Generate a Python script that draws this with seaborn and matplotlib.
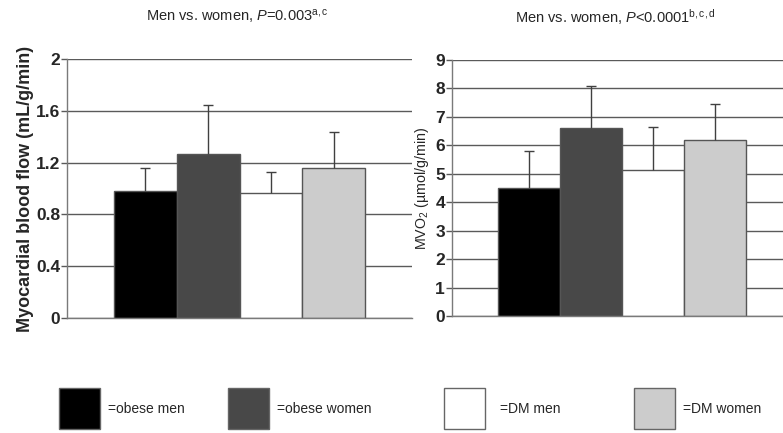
import matplotlib
matplotlib.use("Agg")
import matplotlib.pyplot as plt
from matplotlib.patches import Rectangle
import numpy as np
import pandas as pd
import seaborn as sns

# Groups and measurements (mean and upper SD)
groups = ["obese men", "obese women", "DM men", "DM women"]
mbf_mean = [0.98, 1.27, 0.965, 1.155]
mbf_sd = [0.18, 0.375, 0.16, 0.28]
mvo2_mean = [4.5, 6.6, 5.15, 6.2]
mvo2_sd = [1.3, 1.5, 1.5, 1.27]

mbf_ticks = [0, 0.4, 0.8, 1.2, 1.6, 2]
mbf_ticklabels = ["0", "0.4", "0.8", "1.2", "1.6", "2"]
mvo2_ticks = list(range(0, 10))

colors = ["#000000", "#484848", "#ffffff", "#cccccc"]

sns.set_style("white")
plt.rcParams["font.family"] = ["Liberation Sans", "DejaVu Sans"]
plt.rcParams["mathtext.fontset"] = "custom"
plt.rcParams["mathtext.rm"] = "Liberation Sans"
plt.rcParams["mathtext.it"] = "Liberation Sans:italic"
plt.rcParams["mathtext.bf"] = "Liberation Sans:bold"

df = pd.DataFrame({"group": groups, "mbf": mbf_mean, "mbf_sd": mbf_sd,
                   "mvo2": mvo2_mean, "mvo2_sd": mvo2_sd})

fig = plt.figure(figsize=(7.83, 4.33), dpi=100)
ax1 = fig.add_axes([0.0856, 0.2656, 0.4406, 0.5981])
ax2 = fig.add_axes([0.5773, 0.2702, 0.4342, 0.5912])

grid_col = "#5a5a5a"
edge_col = "#555555"


def panel(ax, col, sdcol, ticks, ticklabels, ymax):
    sns.barplot(data=df, x="group", y=col, hue="group", palette=colors,
                width=1, saturation=1, legend=False, edgecolor=edge_col,
                linewidth=1, ax=ax, zorder=2)
    x = np.arange(len(groups))
    eb = ax.errorbar(x, df[col], yerr=[np.zeros(len(groups)), df[sdcol]],
                     fmt="none", ecolor="#404040", elinewidth=1,
                     capsize=3.5, capthick=1, zorder=3)
    # keep only the upper caps
    caps = eb.lines[1]
    if len(caps) == 2:
        caps[0].set_visible(False)
    ax.set_xlim(-1.25, 4.25)
    ax.set_ylim(0, ymax)
    ax.set_yticks(ticks)
    ax.set_yticklabels(ticklabels, fontweight="bold", fontsize=12.5)
    ax.set_xticks([])
    ax.set_xlabel("")
    ax.yaxis.grid(True, color=grid_col, linewidth=1)
    ax.set_axisbelow(True)
    ax.tick_params(axis="y", length=4, width=1, color=grid_col, pad=1,
                   left=True)
    for s in ["top", "right"]:
        ax.spines[s].set_visible(False)
    for s in ["left", "bottom"]:
        ax.spines[s].set_color("#7a7a7a")
        ax.spines[s].set_linewidth(1)


panel(ax1, "mbf", "mbf_sd", mbf_ticks, mbf_ticklabels, 2)
panel(ax2, "mvo2", "mvo2_sd", mvo2_ticks, [str(t) for t in mvo2_ticks], 9)

ax1.set_ylabel("Myocardial blood flow (mL/g/min)", fontweight="bold",
               fontsize=13, labelpad=1)
ax2.set_ylabel(r"MVO$_2$ (µmol/g/min)", fontsize=10.3, labelpad=3)

fig.text(237 / 783, 1 - 16 / 433,
         r"Men vs. women, $\mathit{P}$=0.003$^{\mathrm{a,c}}$",
         ha="center", va="center", fontsize=10.5)
fig.text(615 / 783, 1 - 17 / 433,
         r"Men vs. women, $\mathit{P}$<0.0001$^{\mathrm{b,c,d}}$",
         ha="center", va="center", fontsize=10.5)

# Legend swatches along the bottom
sw_left = [59, 228, 444, 634]
txt_left = [108, 277, 500, 683]
for g, c, sx, tx in zip(groups, colors, sw_left, txt_left):
    fig.patches.append(Rectangle((sx / 783, 1 - 429 / 433), 41 / 783,
                                 41 / 433, transform=fig.transFigure,
                                 facecolor=c, edgecolor="#666666",
                                 linewidth=1))
    fig.text(tx / 783, 1 - 409 / 433, "=" + g, ha="left", va="center",
             fontsize=10)

fig.savefig("out.png", dpi=100)
